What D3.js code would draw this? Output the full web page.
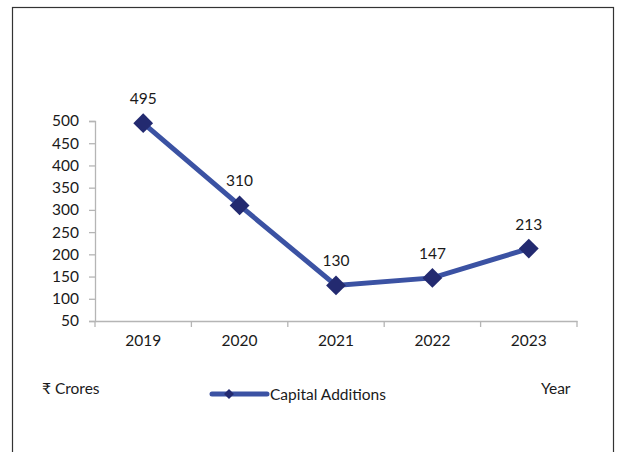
<!DOCTYPE html>
<html>
<head>
<meta charset="utf-8">
<script src="https://cdn.jsdelivr.net/npm/d3@7"></script>
<style>
  body { margin: 0; background: #fff; }
  text { font-family: Lato, "Open Sans", sans-serif; fill: #1a1a1a; }
</style>
</head>
<body>
<div id="chart"></div>
<script>
var years = ["2019", "2020", "2021", "2022", "2023"]
var capitalAdditions = [495, 310, 130, 147, 213]
var yTicks = [50, 100, 150, 200, 250, 300, 350, 400, 450, 500]
var seriesName = "Capital Additions"

var W = 619, H = 452
var margin = {top: 121, left: 95}
var width = 482, height = 200
var fs = "15.5px"

var svg = d3.select("#chart").append("svg")
	.attr("width", W)
	.attr("height", H)

// outer frame (bottom edge falls outside the picture)
svg.append("rect")
	.attr("x", 12.5).attr("y", 7.5)
	.attr("width", 601).attr("height", 460)
	.attr("fill", "none")
	.attr("stroke", "#333").attr("stroke-width", 1.2)

var x = d3.scaleBand().domain(years).range([0, width])
var y = d3.scaleLinear().domain([50, 500]).range([height, 0])

var g = svg.append("g")
	.attr("transform", "translate(" + margin.left + "," + margin.top + ")")

// y axis
var yAxis = g.append("g")
	.call(d3.axisLeft(y).tickValues(yTicks).tickSize(6).tickPadding(10))
yAxis.selectAll("text").style("font-size", fs)

// x axis, ticks at band edges
var xAxis = g.append("g")
	.attr("transform", "translate(0," + height + ")")
	.call(d3.axisBottom(x).tickSize(0).tickPadding(14))
xAxis.selectAll("text").style("font-size", fs)
xAxis.selectAll(".edge")
	.data(d3.range(years.length + 1))
	.enter().append("line")
	.attr("class", "edge")
	.attr("x1", function(i) { return i * x.step() })
	.attr("x2", function(i) { return i * x.step() })
	.attr("y1", 0).attr("y2", 6)

svg.selectAll(".domain, .tick line, .edge")
	.attr("stroke", "#b5b5b5").attr("stroke-width", 1.3)

var cx = function(d, i) { return x(years[i]) + x.bandwidth() / 2 }

var line = d3.line()
	.x(function(d, i) { return cx(d, i) })
	.y(function(d) { return y(d) })

g.append("path")
	.datum(capitalAdditions)
	.attr("d", line)
	.attr("fill", "none")
	.attr("stroke", "#3b52a3")
	.attr("stroke-width", 5)

g.selectAll(".pt")
	.data(capitalAdditions)
	.enter().append("rect")
	.attr("class", "pt")
	.attr("x", -7).attr("y", -7)
	.attr("width", 14).attr("height", 14)
	.attr("transform", function(d, i) { return "translate(" + cx(d, i) + "," + y(d) + ") rotate(45)" })
	.attr("fill", "#232a70")

g.selectAll(".lbl")
	.data(capitalAdditions)
	.enter().append("text")
	.attr("class", "lbl")
	.attr("x", cx)
	.attr("y", function(d) { return y(d) - 19 })
	.attr("text-anchor", "middle")
	.style("font-size", fs)
	.text(function(d) { return d })

// bottom labels and legend
svg.append("text")
	.attr("x", 42).attr("y", 394)
	.style("font-size", fs)
	.text("₹ Crores")

svg.append("text")
	.attr("x", 541).attr("y", 394)
	.style("font-size", fs)
	.text("Year")

svg.append("line")
	.attr("x1", 212).attr("x2", 267)
	.attr("y1", 394).attr("y2", 394)
	.attr("stroke", "#3b52a3").attr("stroke-width", 5)
	.attr("stroke-linecap", "round")

svg.append("rect")
	.attr("x", -3.5).attr("y", -3.5)
	.attr("width", 7).attr("height", 7)
	.attr("transform", "translate(229,394) rotate(45)")
	.attr("fill", "#232a70")

svg.append("text")
	.attr("x", 270).attr("y", 400)
	.style("font-size", fs)
	.text(seriesName)
</script>
</body>
</html>
